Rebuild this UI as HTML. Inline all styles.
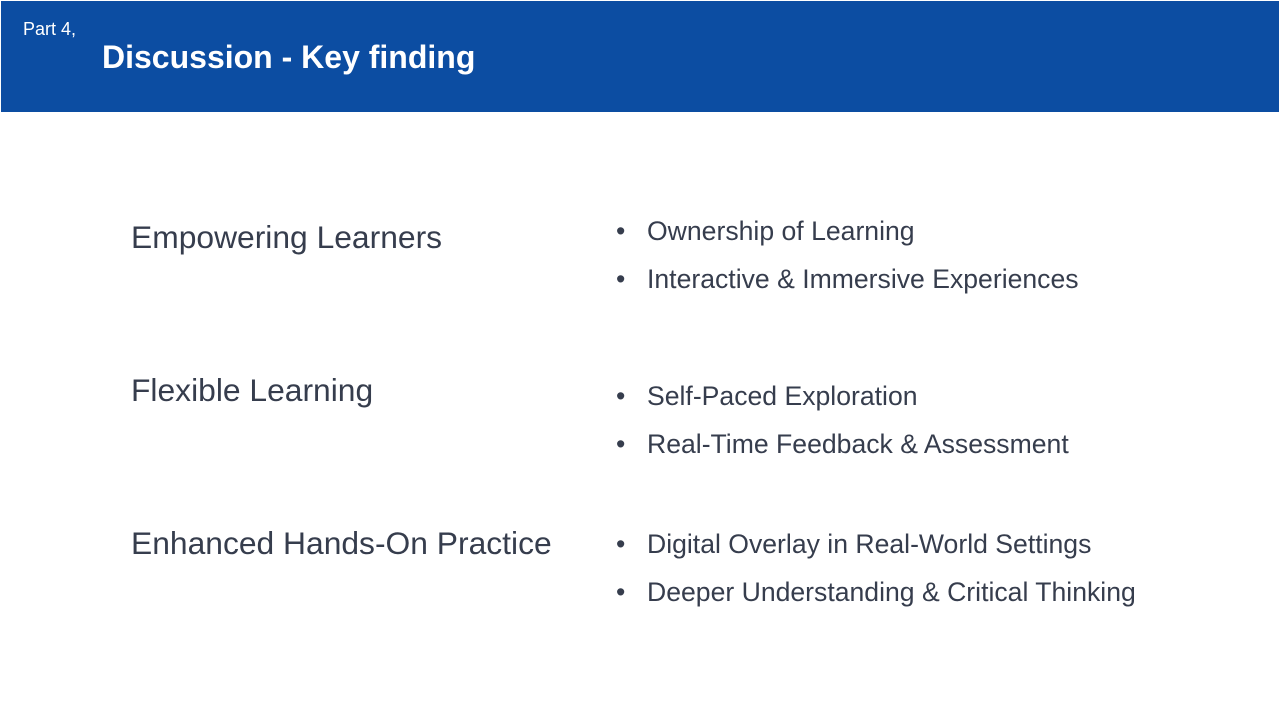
<!DOCTYPE html>
<html><head><meta charset="utf-8"><style>
html,body{margin:0;padding:0;background:#fff;}
svg{display:block;font-family:"Liberation Sans",Arial,sans-serif;}
</style></head><body>
<svg width="1280" height="720" viewBox="0 0 1280 720">
<rect x="1" y="1" width="1278" height="111" fill="#0c4da2"/>
<text x="23" y="35" font-size="18" fill="#fff">Part 4,</text>
<text x="102" y="68" font-size="32" font-weight="bold" fill="#fff">Discussion - Key finding</text>
<g fill="#363d4d">
<text x="131" y="248" font-size="31.8">Empowering Learners</text>
<text x="131" y="401" font-size="31.8">Flexible Learning</text>
<text x="131" y="554" font-size="31.8">Enhanced Hands-On Practice</text>
<g font-size="26.6">
<text x="616" y="240">•</text>
<text x="647" y="240">Ownership of Learning</text>
<text x="616" y="288">•</text>
<text x="647" y="288">Interactive &amp; Immersive Experiences</text>
<text x="616" y="405">•</text>
<text x="647" y="405">Self-Paced Exploration</text>
<text x="616" y="453">•</text>
<text x="647" y="453">Real-Time Feedback &amp; Assessment</text>
<text x="616" y="553">•</text>
<text x="647" y="553">Digital Overlay in Real-World Settings</text>
<text x="616" y="601">•</text>
<text x="647" y="601">Deeper Understanding &amp; Critical Thinking</text>
</g>
</g>
</svg>
</body></html>
